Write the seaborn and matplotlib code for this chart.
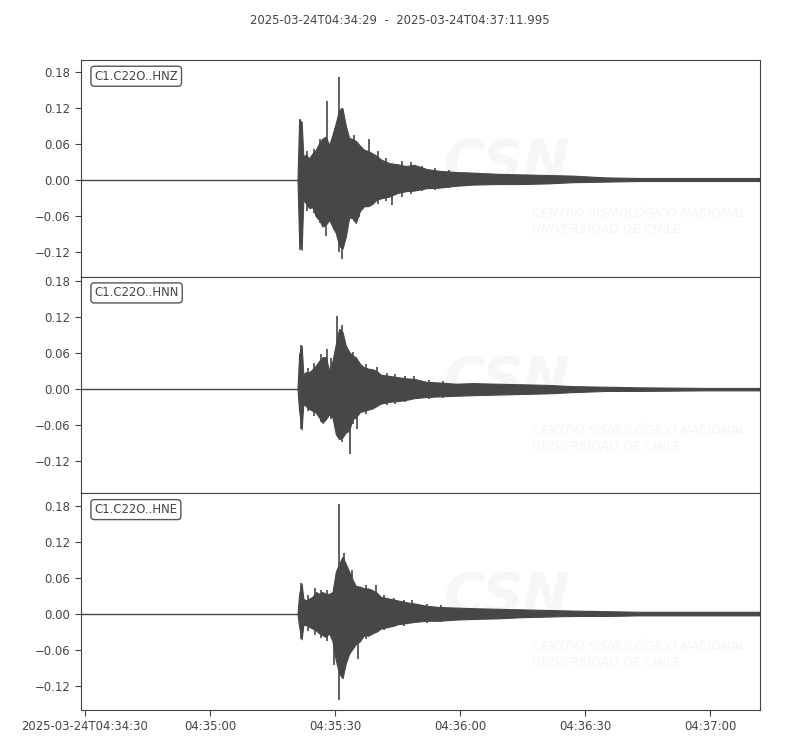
import matplotlib
matplotlib.use("Agg")
import matplotlib.pyplot as plt
import seaborn as sns
from matplotlib.ticker import FixedLocator, FuncFormatter

sns.set_style("ticks")
plt.rcParams['font.family'] = ['DejaVu Sans']

# seconds after 2025-03-24T04:34:29
t_start, t_end = 0.0, 162.995
title = "2025-03-24T04:34:29  -  2025-03-24T04:37:11.995"
channels = ["C1.C22O..HNZ", "C1.C22O..HNN", "C1.C22O..HNE"]

xtick_pos = [1, 31, 61, 91, 121, 151]
xtick_labels = ["2025-03-24T04:34:30", "04:35:00", "04:35:30", "04:36:00", "04:36:30", "04:37:00"]
ytick_pos = [-0.12, -0.06, 0.0, 0.06, 0.12, 0.18]
ylims = [(-0.1617, 0.2), (-0.173, 0.1867), (-0.16, 0.2017)]

# envelope of each trace
t_env = [52.0, 52.4, 53.0, 53.4, 54.0, 54.8, 55.6, 56.4, 57.2, 58.0, 58.8, 59.6, 60.4, 61.2,
         62.0, 62.8, 63.6, 64.4, 65.2, 66.0, 67.0, 68.0, 69.0, 70.0, 71.0, 72.0, 74.0, 76.0,
         78.0, 80.0, 83.0, 86.0, 90.0, 94.0, 100.0, 106.0, 112.0, 118.0, 126.0, 134.0, 150.0, 163.0]

hnz_top = [0.0, 0.100, 0.097, 0.039, 0.042, 0.036, 0.044, 0.050, 0.061, 0.069, 0.072, 0.058, 0.075, 0.095,
           0.117, 0.119, 0.090, 0.070, 0.068, 0.065, 0.057, 0.050, 0.048, 0.044, 0.040, 0.034, 0.028, 0.026,
           0.023, 0.025, 0.018, 0.015, 0.013, 0.012, 0.010, 0.009, 0.008, 0.007, 0.004, 0.003, 0.003, 0.003]
hnz_bot = [0.0, -0.103, -0.117, -0.033, -0.039, -0.047, -0.046, -0.061, -0.067, -0.078, -0.075, -0.067, -0.078, -0.089,
           -0.110, -0.115, -0.095, -0.063, -0.064, -0.072, -0.052, -0.044, -0.044, -0.040, -0.033, -0.031, -0.028, -0.022,
           -0.019, -0.018, -0.014, -0.013, -0.010, -0.008, -0.007, -0.007, -0.006, -0.004, -0.003, -0.002, -0.002, -0.002]

hnn_top = [0.0, 0.058, 0.072, 0.025, 0.028, 0.028, 0.033, 0.039, 0.047, 0.053, 0.053, 0.031, 0.047, 0.075,
           0.100, 0.095, 0.072, 0.062, 0.056, 0.053, 0.042, 0.036, 0.034, 0.033, 0.030, 0.024, 0.022, 0.020,
           0.018, 0.017, 0.012, 0.011, 0.009, 0.010, 0.009, 0.008, 0.007, 0.005, 0.004, 0.003, 0.002, 0.002]
hnn_bot = [0.0, -0.036, -0.067, -0.025, -0.028, -0.033, -0.036, -0.039, -0.047, -0.056, -0.050, -0.042, -0.047, -0.075,
           -0.083, -0.080, -0.072, -0.069, -0.050, -0.047, -0.038, -0.036, -0.034, -0.032, -0.028, -0.024, -0.021, -0.020,
           -0.018, -0.015, -0.013, -0.012, -0.011, -0.010, -0.009, -0.008, -0.007, -0.005, -0.003, -0.003, -0.002, -0.002]

hne_top = [0.0, 0.034, 0.051, 0.026, 0.023, 0.026, 0.029, 0.037, 0.034, 0.037, 0.034, 0.034, 0.037, 0.071,
           0.084, 0.096, 0.084, 0.071, 0.058, 0.047, 0.046, 0.043, 0.043, 0.040, 0.036, 0.029, 0.026, 0.023,
           0.020, 0.018, 0.014, 0.012, 0.011, 0.010, 0.009, 0.008, 0.007, 0.006, 0.005, 0.004, 0.004, 0.004]
hne_bot = [0.0, -0.021, -0.042, -0.018, -0.018, -0.021, -0.024, -0.027, -0.032, -0.035, -0.038, -0.032, -0.045, -0.077,
           -0.099, -0.107, -0.082, -0.066, -0.058, -0.050, -0.045, -0.035, -0.036, -0.032, -0.029, -0.024, -0.021, -0.017,
           -0.015, -0.013, -0.011, -0.011, -0.009, -0.008, -0.007, -0.005, -0.004, -0.003, -0.003, -0.002, -0.002, -0.002]

# single spikes sticking out of the envelope
hnz_spike_t = [52.6, 54.4, 55.9, 57.5, 58.8, 59.2, 60.8, 62.0, 62.8, 64.0, 65.6, 66.7, 69.1, 71.4,
               73.2, 74.8, 77.1, 79.3, 82.0, 85.1, 88.4]
hnz_spike_lo = [-0.117, -0.052, -0.055, -0.072, -0.094, 0.0, -0.084, -0.120, -0.132, -0.083, -0.068, -0.062, 0.0, -0.040,
                -0.036, -0.042, -0.028, -0.024, -0.019, -0.017, -0.014]
hnz_spike_hi = [0.101, 0.048, 0.052, 0.068, 0.0, 0.132, 0.080, 0.172, 0.120, 0.082, 0.075, 0.0, 0.068, 0.048,
                0.036, 0.0, 0.031, 0.030, 0.023, 0.020, 0.017]

hnn_spike_t = [52.9, 54.5, 56.0, 57.7, 59.2, 60.0, 61.45, 62.6, 64.6, 65.3, 66.4, 68.5, 71.2, 73.5,
               75.4, 77.8, 80.0, 83.5, 87.0]
hnn_spike_lo = [-0.067, -0.037, -0.044, -0.055, 0.0, -0.050, 0.0, -0.088, -0.107, -0.058, -0.067, -0.041, 0.0, -0.027,
                -0.024, -0.022, 0.0, -0.016, -0.014]
hnn_spike_hi = [0.074, 0.035, 0.043, 0.058, 0.067, 0.052, 0.121, 0.106, 0.0, 0.062, 0.0, 0.041, 0.036, 0.027,
                0.025, 0.021, 0.021, 0.015, 0.013]

hne_spike_t = [52.9, 54.6, 56.2, 57.6, 59.0, 60.8, 62.0, 63.2, 65.0, 66.5, 68.4, 70.8, 72.8, 75.2,
               77.5, 79.6, 83.0, 86.5]
hne_spike_lo = [-0.042, -0.028, -0.034, -0.040, -0.044, -0.085, -0.143, -0.090, 0.0, -0.074, -0.042, 0.0, -0.027, -0.022,
                -0.019, 0.0, -0.014, -0.013]
hne_spike_hi = [0.052, 0.032, 0.043, 0.041, 0.040, 0.0, 0.184, 0.102, 0.073, 0.0, 0.049, 0.048, 0.032, 0.027,
                0.024, 0.023, 0.017, 0.015]

tops = [hnz_top, hnn_top, hne_top]
bots = [hnz_bot, hnn_bot, hne_bot]
spikes = [(hnz_spike_t, hnz_spike_lo, hnz_spike_hi),
          (hnn_spike_t, hnn_spike_lo, hnn_spike_hi),
          (hne_spike_t, hne_spike_lo, hne_spike_hi)]

wave = "#474747"
txt = "#444444"
fs = 8.4

fig, axes = plt.subplots(3, 1, sharex=True, figsize=(8, 7.5), dpi=100)
fig.subplots_adjust(left=0.101, right=0.95, top=0.92, bottom=0.0533, hspace=0)

for i, ax in enumerate(axes):
    # faint CSN watermark
    ax.text(0.627, 0.52, "CSN", transform=ax.transAxes, ha="center", va="center",
            fontsize=40, fontweight="bold", fontstyle="italic", color="#f6f6f6", zorder=0)
    ax.text(0.665, 0.255, "CENTRO SISMOLÓGICO NACIONAL\nUNIVERSIDAD DE CHILE", transform=ax.transAxes,
            ha="left", va="center", fontsize=9, fontstyle="italic", color="#f5f5f5",
            linespacing=1.3, zorder=0)

    sns.lineplot(x=[t_start, t_end], y=[0.0, 0.0], color=wave, lw=1.0, ax=ax)
    ax.fill_between(t_env, bots[i], tops[i], color=wave, lw=0.8)
    st, lo, hi = spikes[i]
    ax.vlines(st, lo, hi, color=wave, lw=1.2)

    ax.set_xlim(t_start, t_end)
    ax.set_ylim(*ylims[i])
    ax.yaxis.set_major_locator(FixedLocator(ytick_pos))
    ax.yaxis.set_major_formatter(FuncFormatter(lambda v, p: f"{v:.2f}".replace("-", "\u2212")))
    ax.tick_params(axis="y", labelsize=fs, colors=txt, length=4)
    ax.tick_params(axis="x", labelsize=fs, colors=txt, length=4)
    for s in ax.spines.values():
        s.set_color(txt)
    ax.text(0.02, 0.955, channels[i], transform=ax.transAxes, ha="left", va="top",
            fontsize=fs, color=txt,
            bbox=dict(boxstyle="round,pad=0.3", fc="white", ec="#555555", lw=1.0))

axes[-1].xaxis.set_major_locator(FixedLocator(xtick_pos))
axes[-1].set_xticklabels(xtick_labels)
for ax in axes[:-1]:
    ax.tick_params(axis="x", length=0)

fig.text(0.5, 0.973, title, ha="center", va="center", fontsize=fs, color=txt)

fig.savefig("out.png", dpi=100)
